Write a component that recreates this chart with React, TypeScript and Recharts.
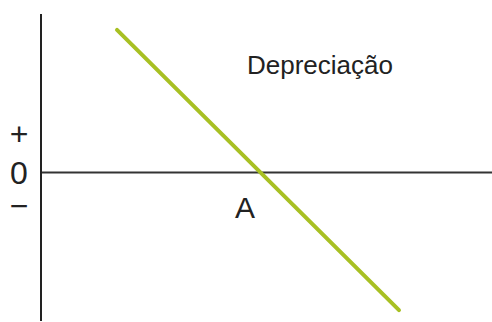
import { LineChart, Line, XAxis, YAxis, ReferenceLine, ReferenceDot } from 'recharts';

// conceptual chart: value vs. x, crosses zero at point A
const depreciationX = [76, 358];
const depreciationY = [144, -139];
const yTickValues = [39, 0, -33];
const yTickLabels = ['+', '0', '−'];
const seriesLabel = 'Depreciação';
const pointLabel = 'A';

const data = depreciationX.map((x, i) => ({ x, y: depreciationY[i] }));

const FONT = '"Liberation Sans", Arial, sans-serif';

const SignTick = (props: any) => {
    const { y, payload } = props;
    const idx = yTickValues.indexOf(payload.value);
    return (
        <text x={19} y={y} dy={11.5} textAnchor="middle" fill="#222" fontSize={32} fontFamily={FONT}>
            {yTickLabels[idx]}
        </text>
    );
};

export default function App() {
    return (
        <div style={{ position: 'fixed', top: 0, left: 0, width: 492, height: 322, background: '#fff' }}>
            <LineChart width={492} height={322} data={data} margin={{ top: 14, right: 0, bottom: 1, left: 0 }}>
                <XAxis dataKey="x" type="number" domain={[0, 451]} hide />
                <YAxis
                    type="number"
                    domain={[-150, 160]}
                    width={41}
                    ticks={yTickValues}
                    interval={0}
                    tickLine={false}
                    axisLine={{ stroke: '#222', strokeWidth: 2 }}
                    tick={<SignTick />}
                />
                <ReferenceLine y={0} stroke="#333" strokeWidth={2} />
                <Line
                    dataKey="y"
                    stroke="#a8c023"
                    strokeWidth={4}
                    strokeLinecap="round"
                    dot={false}
                    isAnimationActive={false}
                />
                <ReferenceDot
                    x={279}
                    y={109}
                    r={0}
                    stroke="none"
                    label={{ value: seriesLabel, position: 'center', fill: '#222', fontSize: 26, fontFamily: FONT }}
                />
                <ReferenceDot
                    x={204}
                    y={-35}
                    r={0}
                    stroke="none"
                    label={{ value: pointLabel, position: 'center', fill: '#222', fontSize: 30, fontFamily: FONT }}
                />
            </LineChart>
        </div>
    );
}
